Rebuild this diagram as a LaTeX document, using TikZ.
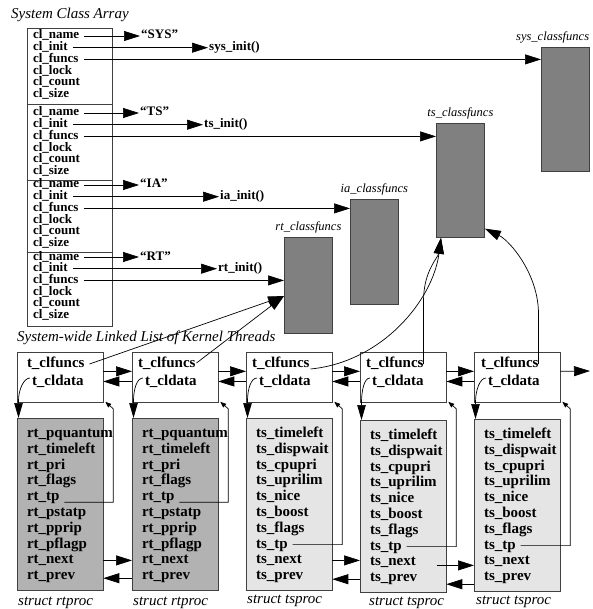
\documentclass[tikz,border=0pt]{standalone}
\usepackage{fontspec}
\setmainfont{Liberation Serif}
\usetikzlibrary{arrows.meta,calc}
\definecolor{funcgray}{gray}{0.5}
\definecolor{rtgray}{gray}{0.7}
\definecolor{tsgray}{gray}{0.9}
\definecolor{edgegray}{gray}{0.25}
\newcommand\sizept[1]{\fontsize{#1}{#1}\selectfont}
\begin{document}
\begin{tikzpicture}[x=1pt,y=-1pt,
  frame/.style={draw=edgegray,line width=0.8pt,rectangle,inner sep=0pt,anchor=north west},
  funcbox/.style={frame,fill=funcgray,minimum width=48pt},
  field/.style={font=\sizept{13}\bfseries,inner sep=0pt,outer xsep=5pt,anchor=west,text height=8.5pt,text depth=2.5pt},
  target/.style={font=\sizept{13}\bfseries,inner xsep=1pt,inner ysep=0pt,anchor=west,text height=8.5pt,text depth=2.5pt},
  member/.style={font=\sizept{15}\bfseries,inner sep=0pt,outer xsep=5pt,anchor=west,text height=10pt,text depth=3pt},
  heading/.style={font=\sizept{15}\itshape,inner sep=0pt,anchor=west},
  fnlabel/.style={font=\sizept{12.5}\itshape,inner sep=0pt,anchor=south},
  structlabel/.style={font=\sizept{15}\itshape,inner sep=0pt,anchor=base west},
  conn/.style={line width=0.7pt,draw=black},
  bigarrow/.style={conn,-{Triangle[length=16pt,width=10pt]}},
  hookarrow/.style={conn,-{Triangle[length=15pt,width=8.5pt]}},
  tparrow/.style={conn,-{Triangle[length=6pt,width=4.5pt]}},
]
\useasboundingbox (0,0) rectangle (592,609);

% ---------- system class array ----------
\node[heading] (titleA) at (11,15) {System Class Array};
\node[frame,minimum width=85pt,minimum height=76pt] (blk1) at (27,28) {};
\node[frame,minimum width=85pt,minimum height=76pt] (blk2) at (27,104) {};
\node[frame,minimum width=85pt,minimum height=72pt] (blk3) at (27,180) {};
\node[frame,minimum width=85pt,minimum height=74pt] (blk4) at (27,252) {};
\foreach \k/\y in {1/36,2/113,3/185,4/257}
  \foreach \f [count=\i from 0] in {name,init,funcs,lock,count,size}
    \node[field] (c\k-\f) at (28,{\y+\i*11.7}) {cl\_\f};

% names and init routines
\node[target] (q1) at (140,36) {“SYS”};
\node[target] (i1) at (208,47.7) {sys\_init()};
\node[target] (q2) at (139,113) {“TS”};
\node[target] (i2) at (203,124.7) {ts\_init()};
\node[target] (q3) at (139,185) {“IA”};
\node[target] (i3) at (219,196.7) {ia\_init()};
\node[target] (q4) at (139,257) {“RT”};
\node[target] (i4) at (217,268.7) {rt\_init()};

% class function vectors
\node[funcbox,minimum height=124pt] (sysf) at (541,47) {};
\node[funcbox,minimum height=114pt] (tsf) at (436,123) {};
\node[funcbox,minimum height=105pt] (iaf) at (350,199) {};
\node[funcbox,minimum height=96pt] (rtf) at (284,237) {};
\node[fnlabel,anchor=south west] (sysfl) at ([yshift=4pt]sysf.north west -| 516,0) {sys\_classfuncs};
\node[fnlabel] (tsfl) at ([yshift=4pt]tsf.north) {ts\_classfuncs};
\node[fnlabel] (iafl) at ([yshift=4pt]iaf.north) {ia\_classfuncs};
\node[fnlabel] (rtfl) at ([yshift=4pt]rtf.north) {rt\_classfuncs};

\foreach \k in {1,2,3,4} {
  \draw[bigarrow] (c\k-name.east) -- (c\k-name.east -| q\k.west);
  \draw[bigarrow] (c\k-init.east) -- (c\k-init.east -| i\k.west);
}
\draw[bigarrow] (c1-funcs.east) -- (c1-funcs.east -| sysf.west);
\draw[bigarrow] (c2-funcs.east) -- (c2-funcs.east -| tsf.west);
\draw[bigarrow] (c3-funcs.east) -- (c3-funcs.east -| iaf.west);
\draw[bigarrow] (c4-funcs.east) -- (c4-funcs.east -| rtf.west);

% ---------- kernel thread list ----------
\node[heading] (titleB) at (17,338) {System-wide Linked List of Kernel Threads};

\foreach \c/\L/\fc/\fd in {1/17/10/15,2/132/6/13,3/246/6/13,4/360/6/12,5/474/7/14} {
  \node[frame,fill=white,minimum width=85.5pt,minimum height=50pt] (up\c) at (\L,352) {};
  \node[member] (cf\c) at ({\L+\fc-5},364) {t\_clfuncs};
  \node[member,outer xsep=0pt] (cd\c) at ({\L+\fd},382) {t\_cldata};
}
\foreach \c/\L/\T in {1/17/418,2/132/418} {
  \node[frame,fill=rtgray,minimum width=85.5pt,minimum height=172pt] (lo\c) at (\L,\T) {};
  \foreach \f [count=\i from 0] in {pquantum,timeleft,pri,flags,tp,pstatp,pprip,pflagp,next,prev}
    \node[member] (f\c-\f) at ({\L+5},{\T+16+\i*15.8}) {rt\_\f};
  \node[structlabel] (st\c) at ({\L+1},{\T+187}) {struct rtproc};
}
\foreach \c/\L/\T/\sx in {3/246/418/1,4/360/420/9,5/474/419/2} {
  \node[frame,fill=tsgray,minimum width=85.5pt,minimum height=172pt] (lo\c) at (\L,\T) {};
  \foreach \f [count=\i from 0] in {timeleft,dispwait,cpupri,uprilim,nice,boost,flags,tp,next,prev}
    \node[member] (f\c-\f) at ({\L+5},{\T+16+\i*15.8}) {ts\_\f};
  \node[structlabel] (st\c) at ({\L+\sx},{\T+185.5}) {struct tsproc};
}

% links between the thread headers
\foreach \a/\b in {1/2,2/3,3/4,4/5} {
  \draw[bigarrow] ($(up\a.north east)!0.38!(up\a.south east)$) -- ($(up\b.north west)!0.38!(up\b.south west)$);
  \draw[bigarrow] ($(up\b.north west)!0.58!(up\b.south west)$) -- ($(up\a.north east)!0.58!(up\a.south east)$);
}
\coordinate (tail) at (590,371);
\draw[bigarrow] ($(up5.north east)!0.38!(up5.south east)$) -- (tail);

% t_cldata points at the class-specific data
\foreach \c in {1,...,5}
  \draw[hookarrow] ($(cd\c.west)+(-2,-4)$) .. controls +(-6,0) and +(0,-12) .. ($(lo\c.north west)+(1.5,-17)$) -- ($(lo\c.north west)+(1.5,0)$);

% back pointers to the thread
\foreach \c/\dy in {1/5,2/5,3/0,4/0,5/0}
  \draw[tparrow] ($(f\c-tp.east)+(0,\dy)$) -| ([xshift=10pt,yshift=-6pt]up\c.south east) -- ([xshift=2pt,yshift=1pt]up\c.south east);

% next / prev links between class data
\draw[bigarrow] (lo1.east |- f1-next) -- (lo2.west |- f1-next);
\draw[bigarrow] ($(lo2.west |- f1-prev)+(0,2)$) -- ($(lo1.east |- f1-prev)+(0,2)$);
\draw[bigarrow] (lo3.east |- f3-next) -- (lo4.west |- f3-next);
\draw[bigarrow] ($(lo4.west |- f3-prev)+(0,3)$) -- ($(lo3.east |- f3-prev)+(0,3)$);
\draw[bigarrow] ($(lo4.east |- f4-next)+(-9,3)$) -- ($(lo5.west |- f4-next)+(0,3)$);
\draw[bigarrow] ($(lo5.west |- f4-prev)+(0,6)$) -- ($(lo4.east |- f4-prev)+(0,6)$);

% t_clfuncs points at the class function vector
\coordinate (rtin) at ($(rtf.north west)!0.61!(rtf.south west)$);
\coordinate (tsin) at ($(tsf.south west)+(5,0)$);
\coordinate (tsside) at ($(tsf.north east)!0.92!(tsf.south east)$);
\draw[bigarrow] (cf1.east) -- (rtin);
\draw[bigarrow] ($(cf2.east)+(-4,-1)$) -- (rtin);
\draw[bigarrow] ($(cf3.east)+(-4,5)$) .. controls +(72,-7) and +(-8,62) .. (tsin);
\draw[bigarrow] ($(cf4.east)+(-5,0)$) -- ++(0,-63) .. controls +(0,-30) and +(-3,20) .. (tsin);
\draw[bigarrow] ($(cf5.east)+(-5,0)$) -- ++(0,-50) .. controls +(0,-40) and +(25,12) .. (tsside);
\end{tikzpicture}
\end{document}
